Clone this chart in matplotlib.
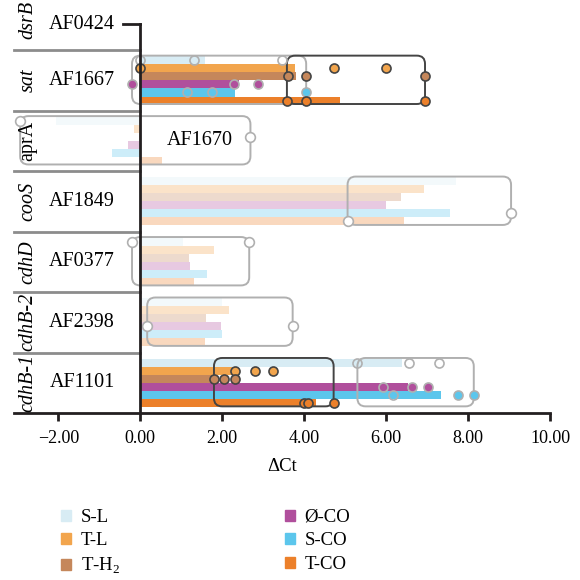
import numpy as np
import matplotlib
matplotlib.use("Agg")
import matplotlib.pyplot as plt
from matplotlib.patches import FancyBboxPatch, Patch

plt.rcParams['font.family'] = ['Liberation Serif', 'DejaVu Serif']
plt.rcParams['mathtext.fontset'] = 'custom'
plt.rcParams['mathtext.rm'] = 'Liberation Serif'

# rows, top to bottom
genes = ['dsrB', 'sat', 'aprA', 'cooS', 'cdhD', 'cdhB-2', 'cdhB-1']
loci = ['AF0424', 'AF1667', 'AF1670', 'AF1849', 'AF0377', 'AF2398', 'AF1101']
highlight = [False, True, False, False, False, False, True]

series = ['S-L', 'T-L', 'T-H$_2$', 'Ø-CO', 'S-CO', 'T-CO']
colors = ['#d8ecf4', '#f2a54d', '#c5875b', '#b04f9c', '#5cc6ec', '#ec802a']

nan = np.nan
sl = [nan, 1.59, -2.05, 7.70, 1.05, 2.00, 6.38]
tl = [nan, 3.77, -0.15, 6.92, 1.81, 2.16, 2.32]
th2 = [nan, 3.81, -0.03, 6.36, 1.18, 1.61, 1.80]
oco = [nan, 2.42, -0.30, 6.01, 1.22, 1.98, 6.53]
sco = [nan, 2.32, -0.68, 7.56, 1.64, 2.00, 7.33]
tco = [nan, 4.87, 0.52, 6.43, 1.32, 1.57, 4.28]
means = [sl, tl, th2, oco, sco, tco]

# replicates (row -> per series), filled flag per point
reps = {
    1: [[0.0, 1.32, 3.45], [0.0, 4.72, 6.0], [3.6, 4.05, 6.95],
        [-0.2, 2.28, 2.88], [1.14, 1.74, 4.05], [3.58, 4.05, 6.95]],
    6: [[5.3, 6.55, 7.3], [2.32, 2.81, 3.25], [1.8, 2.05, 2.32],
        [5.92, 6.63, 7.02], [6.16, 7.75, 8.14], [3.99, 4.1, 4.72]],
}
filled = {
    1: [[0, 0, 0], [1, 1, 1], [1, 1, 1], [1, 0, 1], [0, 0, 1], [1, 1, 1]],
    6: [[0, 0, 0], [1, 1, 1], [1, 1, 1], [0, 1, 1], [0, 1, 1], [1, 1, 1]],
}
# grouped boxes: (row, series indices, dark?)
groups = [(1, [0, 3, 4], False), (1, [2, 5], True),
          (6, [0, 3, 4], False), (6, [1, 2, 5], True)]
# range markers on faded rows: (value, series index)
ranges = {2: [(-2.93, 0), (2.69, 2)], 3: [(5.06, 5), (9.05, 4)],
          4: [(-0.2, 0), (2.66, 0)], 5: [(0.17, 3), (3.72, 3)]}

fig = plt.figure(figsize=(5.8, 5.8), dpi=100)
ax = fig.add_axes([14 / 580, 1 - 413 / 580, 536 / 580, 413 / 580])
ax.set_xlim(-3.08, 10)
ax.set_ylim(6.5, -0.33)

bh = 0.133
offs = (np.arange(6) - 2.5) * bh
gray, dark = '#b0b0b0', '#444444'

for k in range(6):
    for r in range(len(genes)):
        v = means[k][r]
        if np.isnan(v):
            continue
        ax.barh(r + offs[k], v, height=bh, left=0, color=colors[k],
                alpha=1.0 if highlight[r] else 0.3, lw=0, zorder=2)

def rbox(x0, x1, r, ec):
    p = FancyBboxPatch((x0, r - 0.41), x1 - x0, 0.8,
                       boxstyle='round,pad=0,rounding_size=0.2',
                       mutation_aspect=0.68, fc='none', ec=ec, lw=1.4, zorder=3)
    ax.add_patch(p)

for r, idx, isdark in groups:
    pts = np.concatenate([reps[r][k] for k in idx])
    rbox(pts.min(), pts.max(), r, dark if isdark else gray)

for r in reps:
    for k in range(6):
        for v, f in zip(reps[r][k], filled[r][k]):
            ec = gray if k in (0, 3, 4) else dark
            ax.plot(v, r + offs[k], 'o', ms=6.5, mew=1.2, mec=ec,
                    mfc=colors[k] if f else 'none', zorder=4)

for r, pts in ranges.items():
    vals = [p[0] for p in pts]
    rbox(min(vals), max(vals), r, gray)
    for v, k in pts:
        ax.plot(v, r + offs[k], 'o', ms=7, mew=1.2, mec=gray, mfc='white',
                zorder=4, clip_on=False)

# axis line at zero and row separators
ax.plot([0, 0], [0.07, 6.5], color='#231f20', lw=2, zorder=5, clip_on=False)
ax.plot([-0.42, 0], [0.07, 0.07], color='#231f20', lw=2, zorder=5, clip_on=False)
for r in range(len(genes) - 1):
    ax.plot([-3.08, 0], [r + 0.5, r + 0.5], color='#8c8c8c', lw=2, clip_on=False)

for r, (g, loc) in enumerate(zip(genes, loci)):
    ax.text(-2.74, r, g, rotation=90, ha='center', va='center', fontsize=14.5,
            style='normal' if g == 'aprA' else 'italic')
    lx = 1.45 if g == 'aprA' else -1.42
    ax.text(lx, r + (0.07 if r == 0 else 0), loc, ha='center', va='center',
            fontsize=14.5, zorder=6)

for s in ['top', 'left', 'right']:
    ax.spines[s].set_visible(False)
ax.spines['bottom'].set_linewidth(2)
ax.spines['bottom'].set_color('#231f20')
xt = np.arange(-2, 11, 2)
ax.set_xticks(xt)
ax.set_xticklabels([f'{v:.2f}'.replace('-', '\u2212') for v in xt], fontsize=13)
ax.tick_params(axis='x', length=6, width=2, color='#231f20', pad=6)
ax.set_yticks([])
ax.set_xlabel('ΔCt', fontsize=13.5, labelpad=8)

handles = [Patch(color=c) for c in colors]
fig.legend(handles, series, ncol=2, loc='upper left',
           bbox_to_anchor=(44 / 580, 1 - 492 / 580), frameon=False,
           fontsize=13.5, handlelength=0.55, handleheight=0.55,
           handletextpad=0.5, columnspacing=8.8, labelspacing=0.35)

fig.savefig('out.png', dpi=100)
